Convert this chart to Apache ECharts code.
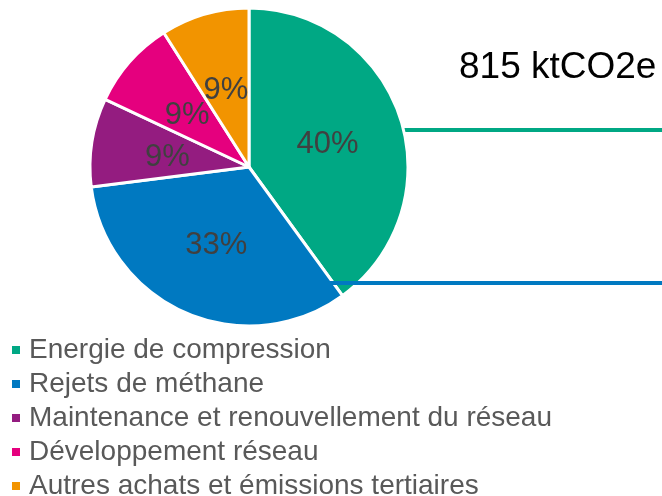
<!DOCTYPE html>
<html>
<head>
<meta charset="utf-8">
<script src="https://cdn.jsdelivr.net/npm/echarts@6/dist/echarts.min.js"></script>
<style>
  html, body { margin: 0; padding: 0; background: #ffffff; }
  #main { width: 662px; height: 496px; }
</style>
</head>
<body>
<div id="main"></div>
<script>
  const categories = [
    'Energie de compression',
    'Rejets de méthane',
    'Maintenance et renouvellement du réseau',
    'Développement réseau',
    'Autres achats et émissions tertiaires'
  ];
  const shares = [40, 33, 9, 9, 9];
  const colors = ['#00a884', '#0079c1', '#941c80', '#e5007e', '#f29400'];
  const totalLabel = '815 ktCO2e';

  const chart = echarts.init(document.getElementById('main'));

  const option = {
    animation: false,
    color: colors,
    legend: {
      orient: 'vertical',
      left: 12,
      top: 335,
      height: 200,
      padding: 0,
      icon: 'rect',
      itemWidth: 8,
      itemHeight: 8,
      itemGap: 4,
      itemStyle: { borderWidth: 0 },
      textStyle: {
        fontFamily: 'Liberation Sans, Arial, sans-serif',
        fontSize: 28,
        color: '#595959',
        lineHeight: 30,
        padding: [0, 0, 0, 4]
      },
      data: categories
    },
    graphic: [
      {
        type: 'text',
        left: 459,
        top: 49,
        style: {
          text: totalLabel,
          fontFamily: 'Liberation Sans, Arial, sans-serif',
          fontSize: 37,
          fill: '#000000'
        }
      },
      {
        type: 'rect',
        z: 0,
        shape: { x: 400, y: 128, width: 262, height: 4 },
        style: { fill: colors[0] }
      },
      {
        type: 'rect',
        z: 100,
        shape: { x: 330, y: 281, width: 332, height: 4 },
        style: { fill: colors[1] }
      }
    ],
    series: [
      {
        type: 'pie',
        center: [249, 167],
        radius: [0, 159],
        startAngle: 90,
        clockwise: true,
        z: 2,
        itemStyle: { borderColor: '#ffffff', borderWidth: 3 },
        label: {
          show: true,
          position: 'inside',
          formatter: '{d}%',
          fontFamily: 'Liberation Sans, Arial, sans-serif',
          fontSize: 31,
          color: '#404040',
          offset: [0, 3]
        },
        labelLayout: { hideOverlap: false },
        labelLine: { show: false },
        emphasis: { disabled: true },
        data: categories.map((name, i) => ({ name: name, value: shares[i] }))
      }
    ]
  };

  chart.setOption(option);
</script>
</body>
</html>
